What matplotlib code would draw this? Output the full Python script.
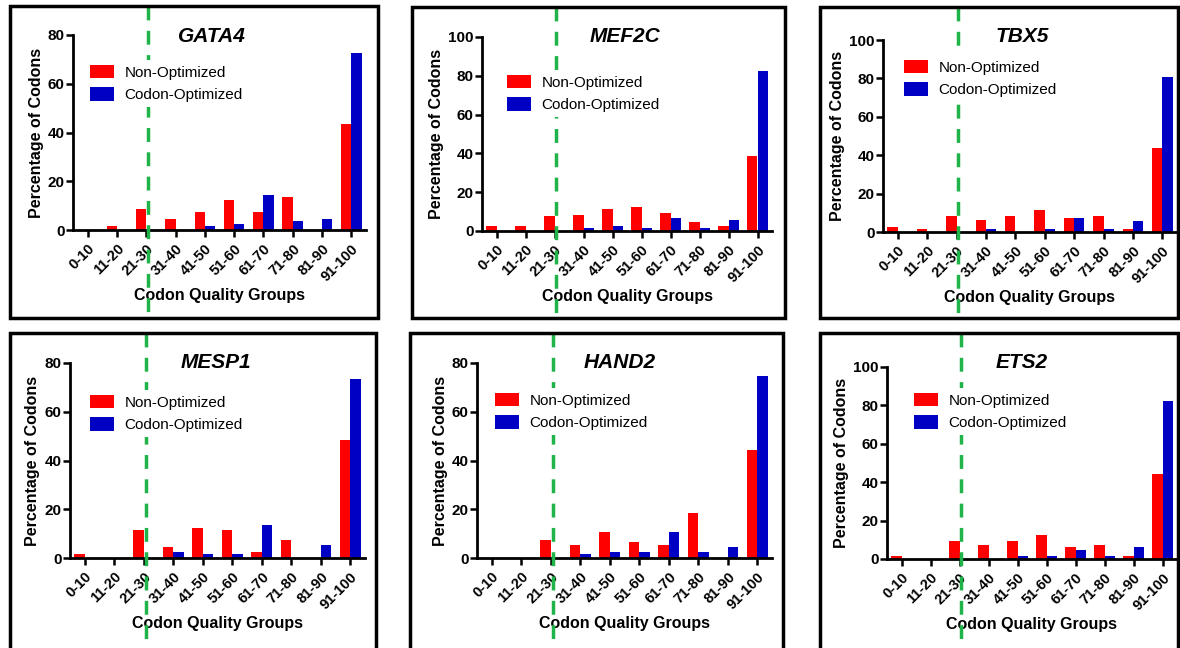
import matplotlib
matplotlib.use('Agg')
import matplotlib.pyplot as plt
from matplotlib.lines import Line2D
from matplotlib.patches import Rectangle
from matplotlib.transforms import blended_transform_factory

plt.rcParams['font.family'] = ['Liberation Sans', 'DejaVu Sans']

groups = ['0-10', '11-20', '21-30', '31-40', '41-50', '51-60',
          '61-70', '71-80', '81-90', '91-100']

genes = ['GATA4', 'MEF2C', 'TBX5', 'MESP1', 'HAND2', 'ETS2']
y_max = [80, 100, 100, 80, 80, 100]

non_gata4 = [0, 1.5, 8.5, 4.5, 7.5, 12.5, 7.5, 13.5, 0, 43.5]
opt_gata4 = [0, 0, 0, 0, 1.5, 2.5, 14.5, 3.5, 4.5, 72.5]
non_mef2c = [2.5, 2.5, 7.5, 8.5, 11.5, 12.5, 9.5, 4.5, 2.5, 38.5]
opt_mef2c = [0, 0, 0, 1.5, 2.5, 1.5, 6.5, 1.5, 5.5, 82.5]
non_tbx5 = [2.5, 1.5, 8.5, 6.5, 8.5, 11.5, 7.5, 8.5, 1.5, 43.5]
opt_tbx5 = [0, 0, 0, 1.5, 0, 1.5, 7.5, 1.5, 5.5, 80.5]
non_mesp1 = [1.5, 0, 11.5, 4.5, 12.5, 11.5, 2.5, 7.5, 0, 48.5]
opt_mesp1 = [0, 0, 0, 2.5, 1.5, 1.5, 13.5, 0, 5.5, 73.5]
non_hand2 = [0, 0, 7.5, 5.5, 10.5, 6.5, 5.5, 18.5, 0, 44.5]
opt_hand2 = [0, 0, 0, 1.5, 2.5, 2.5, 10.5, 2.5, 4.5, 74.5]
non_ets2 = [1.5, 0, 9.5, 7.5, 9.5, 12.5, 6.5, 7.5, 1.5, 44.5]
opt_ets2 = [0, 0, 0, 0, 1.5, 1.5, 4.5, 1.5, 6.5, 82.5]

non_optimized = [non_gata4, non_mef2c, non_tbx5, non_mesp1, non_hand2, non_ets2]
codon_optimized = [opt_gata4, opt_mef2c, opt_tbx5, opt_mesp1, opt_hand2, opt_ets2]

W, H = 1180, 648

# layout in pixels: axes (left, right, top, bottom), panel box, legend corner, title center
axes_px = [(73, 366, 35, 230), (482, 772, 37, 231), (883, 1177, 40, 232),
           (70, 365, 363, 558), (477, 772, 363, 558), (887, 1177, 367, 559)]
box_px = [(10, 378, 6, 318), (412, 785, 7, 318), (820, 1178, 7, 318),
          (10, 376, 333, 652), (410, 783, 333, 652), (820, 1178, 333, 652)]
legend_px = [(85, 60), (502, 70), (899, 55), (85, 390), (490, 388), (909, 388)]
title_px = [(212, 37), (625, 37), (1022, 37), (216, 362), (620, 362), (1022, 362)]

RED = '#ff0000'
BLUE = '#0000c4'
GREEN = '#1fb34a'


def fx(x):
    return x / W


def fy(y):
    return 1 - y / H


def draw_panel(fig, i):
    left, right, top, bottom = axes_px[i]
    ax = fig.add_axes([fx(left), fy(bottom), (right - left) / W, (bottom - top) / H])

    x = list(range(len(groups)))
    w = 0.35
    ax.bar([v - w / 2 for v in x], non_optimized[i], width=w, color=RED,
           label='Non-Optimized', zorder=2)
    ax.bar([v + w / 2 for v in x], codon_optimized[i], width=w, color=BLUE,
           label='Codon-Optimized', zorder=2)

    ax.set_xlim(-0.5, len(groups) - 0.5)
    ax.set_ylim(0, y_max[i])
    ax.set_yticks(range(0, y_max[i] + 1, 20))
    ax.set_xticks(x)
    ax.set_xticklabels(groups, rotation=45, ha='right', rotation_mode='anchor',
                       fontsize=10.5, fontweight='bold')
    for lab in ax.get_yticklabels():
        lab.set_fontweight('bold')
        lab.set_fontsize(11)

    for side in ['top', 'right']:
        ax.spines[side].set_visible(False)
    for side in ['left', 'bottom']:
        ax.spines[side].set_linewidth(2)
    ax.tick_params(width=1.8, length=5)
    ax.tick_params(axis='y', pad=1)

    ax.set_ylabel('Percentage of Codons', fontsize=11.5, fontweight='bold', labelpad=3)
    ax.set_xlabel('Codon Quality Groups', fontsize=11.5, fontweight='bold', labelpad=3)

    # green dashed cut-off line through the whole panel
    b = box_px[i]
    trans = blended_transform_factory(ax.transData, fig.transFigure)
    line = Line2D([2.06, 2.06], [fy(b[2]), fy(min(b[3], H))], transform=trans,
                  color=GREEN, lw=2.5, linestyle=(0, (4, 3)), zorder=4, clip_on=False)
    ax.add_artist(line)

    lx, ly = legend_px[i]
    leg = ax.legend(loc='upper left', bbox_to_anchor=(fx(lx), fy(ly)),
                    bbox_transform=fig.transFigure, fontsize=11, frameon=True,
                    handlelength=1.6, handleheight=1.0, handletextpad=0.7,
                    labelspacing=0.5, borderpad=0.3, borderaxespad=0)
    leg.get_frame().set_facecolor('white')
    leg.get_frame().set_edgecolor('none')
    leg.get_frame().set_alpha(1)
    leg.set_zorder(5)

    tx, ty = title_px[i]
    fig.text(fx(tx), fy(ty), genes[i], fontsize=15, fontweight='bold',
             fontstyle='italic', ha='center', va='center')

    fig.add_artist(Rectangle((fx(b[0]), fy(b[3])), (b[1] - b[0]) / W, (b[3] - b[2]) / H,
                             transform=fig.transFigure, fill=False,
                             edgecolor='black', linewidth=2.5))


fig = plt.figure(figsize=(W / 100, H / 100), dpi=100)
for i in range(len(genes)):
    draw_panel(fig, i)

plt.savefig('out.png', dpi=100)
plt.close()
